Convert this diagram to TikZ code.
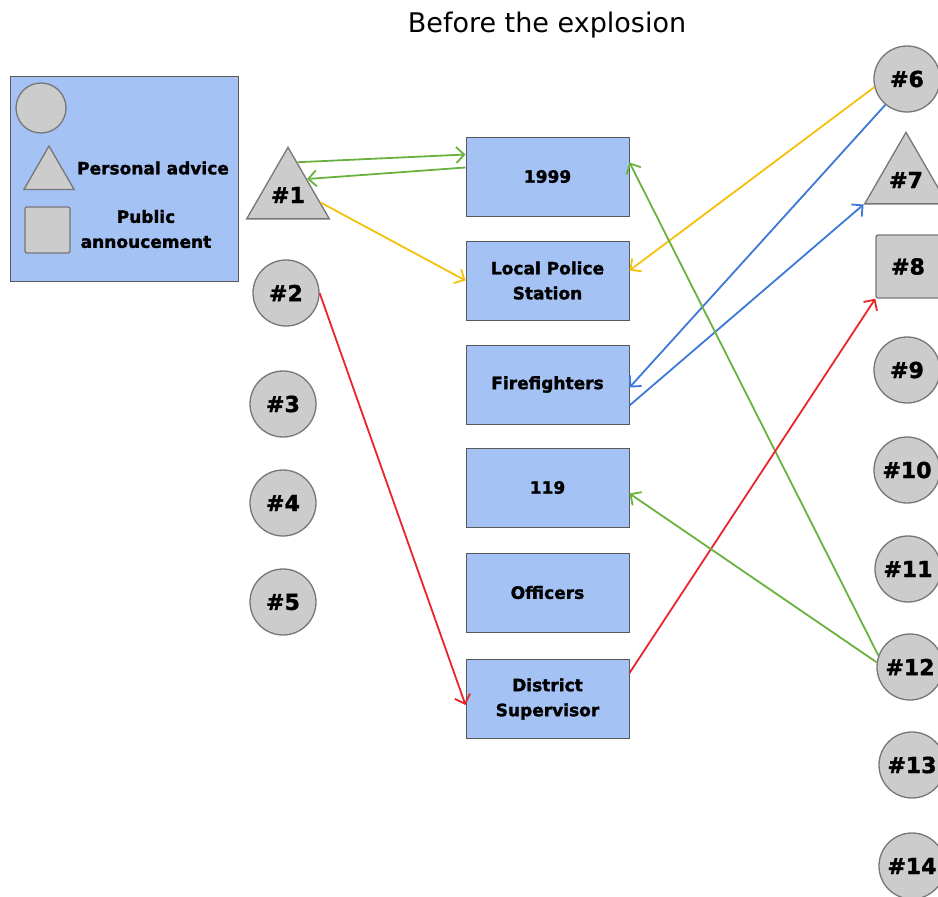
\documentclass[tikz,border=0pt]{standalone}
\usepackage{fontspec}
\setmainfont{DejaVu Sans}[BoldFeatures={FakeBold=1.6}]
\usetikzlibrary{shapes.geometric,arrows.meta}
\definecolor{boxblue}{HTML}{A4C2F4}
\definecolor{boxline}{HTML}{595959}
\definecolor{grayfill}{HTML}{CCCCCC}
\definecolor{grayline}{HTML}{767676}
\definecolor{linkgreen}{HTML}{6AB23F}
\definecolor{linkyellow}{HTML}{F4C20D}
\definecolor{linkblue}{HTML}{3C78D8}
\definecolor{linkred}{HTML}{E8262A}
\begin{document}
\begin{tikzpicture}[x=1pt, y=-1pt,
    lbl/.style={font=\bfseries\fontsize{17}{25}\selectfont, align=center},
    actor/.style={fill=grayfill, draw=grayline, line width=1.3pt, inner sep=0pt,
        font=\bfseries\fontsize{22}{24}\selectfont},
    person/.style={actor, circle, minimum size=66pt},
    advisor/.style={actor, regular polygon, regular polygon sides=3, minimum size=84pt},
    announcer/.style={actor, rectangle, rounded corners=2pt, minimum width=64pt, minimum height=63pt},
    agency/.style={lbl, rectangle, fill=boxblue, draw=boxline, line width=1pt,
        minimum width=163pt, minimum height=79pt},
    link/.style={line width=1.8pt, line join=round, -{Straight Barb[length=8pt,width=16pt]}}]
    \useasboundingbox (0,0) rectangle (938,897);
    \node[font=\fontsize{27}{30}\selectfont] (title) at (547,25) {Before the explosion};

    \node[rectangle, fill=boxblue, draw=boxline, line width=1pt, minimum width=228pt, minimum height=205pt] (legend) at (124,178.5) {};
    \node[person, minimum size=50pt] (lcircle) at (41,108) {};
    \node[advisor, minimum size=58pt] (ltriangle) at (49,175) {};
    \node[announcer, minimum width=45pt, minimum height=46pt] (lsquare) at (47.5,230) {};
    \node[lbl] (ladvice) at (153,168) {Personal advice};
    \node[lbl] (lannounce) at (146,229) {Public\\annoucement};

    \node[advisor] (p1) at (288,195) {\#1};
    \node[person] (p2) at (286,293) {\#2};
    \node[person] (p3) at (283,404) {\#3};
    \node[person] (p4) at (283,503) {\#4};
    \node[person] (p5) at (283,602) {\#5};

    \node[agency] (b1999) at (547.5,176.5) {1999};
    \node[agency] (police) at (547.5,280.5) {Local Police\\Station};
    \node[agency] (fire) at (547.5,384.5) {Firefighters};
    \node[agency] (b119) at (547.5,487.5) {119};
    \node[agency] (officers) at (547.5,592.5) {Officers};
    \node[agency] (super) at (547.5,699) {District\\Supervisor};

    \node[person] (p6) at (907,79) {\#6};
    \node[advisor, minimum size=82pt] (p7) at (906,180) {\#7};
    \node[announcer] (p8) at (908,266.5) {\#8};
    \node[person] (p9) at (907,370) {\#9};
    \node[person] (p10) at (907,470) {\#10};
    \node[person] (p11) at (908,569) {\#11};
    \node[person] (p12) at (910,667) {\#12};
    \node[person] (p13) at (912,765) {\#13};
    \node[person] (p14) at (912,866) {\#14};

    \draw[link, linkgreen] (p1.74) -- ([yshift=22pt]b1999.west);
    \draw[link, linkgreen] ([yshift=9pt]b1999.west) -- (p1.40);
    \draw[link, linkyellow] (p1.-13) -- (police.west);
    \draw[link, linkred] (p2.east) -- ([yshift=-6pt]super.west);
    \draw[link, linkyellow] (p6.194) -- ([yshift=10pt]police.east);
    \draw[link, linkblue] (p6.230) -- ([yshift=-3pt]fire.east);
    \draw[link, linkblue] ([yshift=-21pt]fire.east) -- (p7.corner 2);
    \draw[link, linkgreen] (p12.160) -- ([yshift=14pt]b1999.east);
    \draw[link, linkred] ([yshift=26pt]super.east) -- (p8.south west);
    \draw[link, linkgreen] (p12.172) -- ([yshift=-6pt]b119.east);
\end{tikzpicture}
\end{document}
